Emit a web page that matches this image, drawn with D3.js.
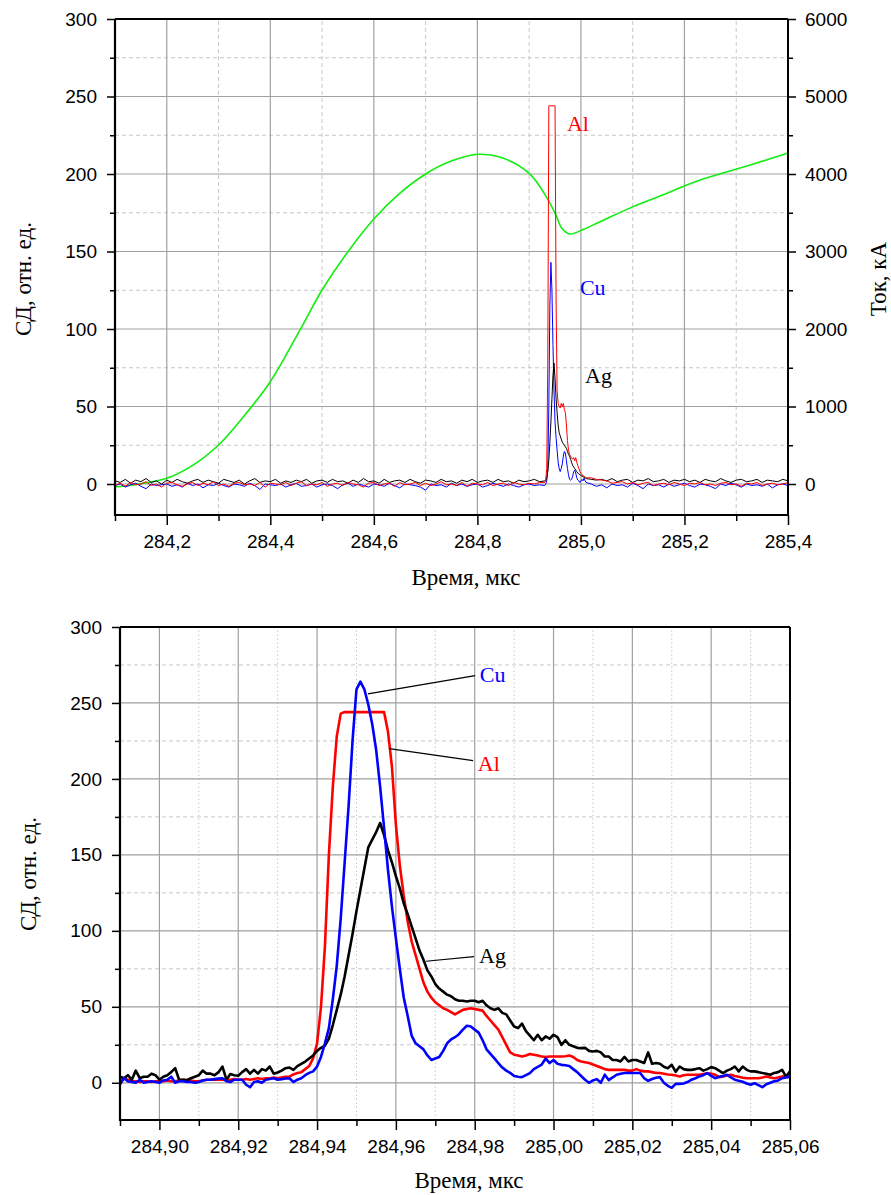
<!DOCTYPE html>
<html><head><meta charset="utf-8">
<script src="https://cdn.jsdelivr.net/npm/d3@7"></script>
<style>body{margin:0;background:#fff}</style>
</head><body><svg id="c" width="891" height="1195" xmlns="http://www.w3.org/2000/svg"></svg>
<script>
// ---------------- TOP PANEL DATA ----------------
const topTimePre = [284.10,284.11,284.12,284.13,284.14,284.15,284.16,284.17,284.18,284.19,
284.20,284.21,284.22,284.23,284.24,284.25,284.26,284.27,284.28,284.29,
284.30,284.31,284.32,284.33,284.34,284.35,284.36,284.37,284.38,284.39,
284.40,284.41,284.42,284.43,284.44,284.45,284.46,284.47,284.48,284.49,
284.50,284.51,284.52,284.53,284.54,284.55,284.56,284.57,284.58,284.59,
284.60,284.61,284.62,284.63,284.64,284.65,284.66,284.67,284.68,284.69,
284.70,284.71,284.72,284.73,284.74,284.75,284.76,284.77,284.78,284.79,
284.80,284.81,284.82,284.83,284.84,284.85,284.86,284.87,284.88,284.89,
284.90,284.91,284.92];
const topTimePeak = [284.930,284.932,284.934,284.936,284.938,284.940,284.942,284.944,284.946,284.948,
284.950,284.952,284.954,284.956,284.958,284.960,284.962,284.964,284.966,284.968,
284.970,284.972,284.974,284.976,284.978,284.980,284.982,284.984,284.986,284.988,
284.990,284.992,284.994,284.996,284.998,285.000,285.002,285.004,285.006,285.008,285.010];
const topTimePost = [285.02,285.03,285.04,285.05,285.06,285.07,285.08,285.09,285.10,285.11,
285.12,285.13,285.14,285.15,285.16,285.17,285.18,285.19,285.20,285.21,
285.22,285.23,285.24,285.25,285.26,285.27,285.28,285.29,285.30,285.31,
285.32,285.33,285.34,285.35,285.36,285.37,285.38,285.39,285.40];

const topAlPre = [-1,0.5,-1.5,1,-0.5,0,1.5,-1,0,-2, 0.5,1,-0.5,-1.5,0,1,-1,0.5,-0.5,1.5,
-1,0,-1.5,0.5,1,-0.5,0,-1,1,-2, 0.5,0,-0.5,1,-1,0.5,1.5,-1,0,-0.5,
1,-1.5,0,0.5,-1,1,0,-0.5,-2,0.5, 1,-1,0,0.5,-1.5,1,-0.5,0,1,-1,
0.5,-1,0,1.5,-0.5,0,-1,1,-1.5,0.5, 0,-0.5,1,-1,0,0.5,-1,1,0,-0.5, 0.5,0,1];
const topAlPeak = [1,3,10,80,244,244,244,244,244,244, 244,120,60,52,50,49,52,50,52,48,
46,38,28,22,19,18,17,16,17,15, 17,14,12,10,8,7,6,5.5,5,4.5, 4];
const topAlPost = [4,3,2.5,2,0.5,1,1.5,0,1,-0.5, 0.5,1,-1,0,0.5,-0.5,1,0,-1,0.5,
0,1,-0.5,0,-1,0.5,1,-0.5,0,-1.5, 0.5,0,1,-1,0,0.5,-0.5,0,1];

const topAgPre = [2,1,3,0.5,2.5,1.5,3.5,1,2,0, 2.5,1,3,1.5,0.5,2,3,1,2.5,1.5,
0.5,3,2,1,2.5,0,2,3.5,1,2, 1.5,3,0.5,2,1,2.5,1.5,3,0.5,2,
2.5,1,3,1.5,2,0.5,2.5,1,3.5,1.5, 2,0.5,3,1,2,2.5,1,3,1.5,0.5,
2.5,2,1,3,1.5,2,0.5,2.5,1.5,3, 1,2,2.5,1,3,1.5,2,0.5,2.5,1.5, 2,3,1.5];
const topAgPeak = [2,2,4,8,15,27,40,55,70,78, 68,55,46,38,33,31,29,27,26,25,
24,23,21,19,18,16,14,12,11,10, 9,8,7,6.5,6,5.5,5,5,4,4, 3.5];
const topAgPost = [3,2.5,3,2,3.5,1.5,2.5,3,1,2.5, 2,3.5,1.5,2,3,1,2.5,2,3,1.5,
2.5,1,3,2,1.5,3.5,2,1,2.5,3, 1.5,2,3,1,2.5,2,1.5,3,2];

const topCuPre = [-1,0,-2,-0.5,0.5,-1.5,-3,0,-1,-0.5, 0,-1.5,-0.5,-2,0.5,-1,0,-2.5,-0.5,-1,
0.5,-1,-2,0,-0.5,-1.5,0.5,-1,-3.5,0, -0.5,-1,0,-2,-0.5,0.5,-1.5,-1,0,-2,
-0.5,0,-1,-3,-0.5,0.5,-1.5,0,-1,-2, 0,-0.5,-1.5,0.5,-1,-2.5,0,-0.5,-1,-2,
-4,0,-1,-0.5,-2,0.5,-1,0,-1.5,-0.5, 0,-2,-1,0.5,-0.5,-1.5,0,-1,-2,-0.5, 0,-1,-0.5];
const topCuPeak = [-1,0,2,10,50,115,143,125,90,60, 40,30,22,14,10,8,10,13,18,21,
20,15,10,6,3,2.5,3,5,8,9, 7,4,2.5,2,1,2,3,2,3.7,2, 1];
const topCuPost = [0,-1.5,-0.5,-2.5,0,-1,-0.5,-2,0.5,-1, -3,0,-1,-0.5,-2,0,-1.5,-0.5,0.5,-1,
-2,0,-0.5,-1.5,-3,0,-1,0.5,-0.5,-2, 0,-1,-0.5,-1.5,0,-2.5,-0.5,0,-1];

// current (right axis, kA)
const currentTime = [284.10,284.135,284.20,284.25,284.30,284.348,284.40,284.458,284.50,284.55,284.60,284.65,284.70,284.747,284.80,284.845,284.90,284.935,284.953,284.963,284.979,285.005,285.037,285.101,285.153,285.23,285.327,285.40];
const currentKA   = [-35,-12,73,240,503,868,1320,1996,2503,2997,3420,3750,4000,4160,4254,4215,4009,3686,3450,3300,3226,3286,3385,3579,3716,3922,4116,4270];

const topXMajor = [284.2,284.4,284.6,284.8,285.0,285.2,285.4];
const topXMinor = [284.1,284.3,284.5,284.7,284.9,285.1,285.3];
const topYMajor = [0,50,100,150,200,250,300];
const topYMinor = [25,75,125,175,225,275];
const rightMajor = [0,1000,2000,3000,4000,5000,6000];
const rightMinor = [500,1500,2500,3500,4500,5500];

const topLabels = [{text:"Al",t:284.973,v:228,color:"#ff0000"},{text:"Cu",t:284.998,v:122,color:"#0000ff"},{text:"Ag",t:285.008,v:65,color:"#000000"}];

// ---------------- BOTTOM PANEL DATA ----------------
const botTime = [284.890,284.891,284.892,284.893,284.894,284.895,284.896,284.897,284.898,284.899,
284.900,284.901,284.902,284.903,284.904,284.905,284.906,284.907,284.908,284.909,
284.910,284.911,284.912,284.913,284.914,284.915,284.916,284.917,284.918,284.919,
284.920,284.921,284.922,284.923,284.924,284.925,284.926,284.927,284.928,284.929,
284.930,284.931,284.932,284.933,284.934,284.935,284.936,284.937,284.938,284.939,
284.940,284.941,284.942,284.943,284.944,284.945,284.946,284.947,284.948,284.949,
284.950,284.951,284.952,284.953,284.954,284.955,284.956,284.957,284.958,284.959,
284.960,284.961,284.962,284.963,284.964,284.965,284.966,284.967,284.968,284.969,
284.970,284.971,284.972,284.973,284.974,284.975,284.976,284.977,284.978,284.979,
284.980,284.981,284.982,284.983,284.984,284.985,284.986,284.987,284.988,284.989,
284.990,284.991,284.992,284.993,284.994,284.995,284.996,284.997,284.998,284.999,
285.000,285.001,285.002,285.003,285.004,285.005,285.006,285.007,285.008,285.009,
285.010,285.011,285.012,285.013,285.014,285.015,285.016,285.017,285.018,285.019,
285.020,285.021,285.022,285.023,285.024,285.025,285.026,285.027,285.028,285.029,
285.030,285.031,285.032,285.033,285.034,285.035,285.036,285.037,285.038,285.039,
285.040,285.041,285.042,285.043,285.044,285.045,285.046,285.047,285.048,285.049,
285.050,285.051,285.052,285.053,285.054,285.055,285.056,285.057,285.058,285.059,
285.060];
const botAg = [4,3,5,2,8,3,4,4,6,5, 2,4,5,7,9.6,2,2,1.5,3,4, 5,8,6,6,5,7,10.7,2,5.7,5,
4.6,7,9,6,8.5,6,9,8,10.7,6, 6.8,8,9.6,10,8.5,11,12.5,14,16,18, 21,23,24.5,29,38,48,58,70,84,98,
113,127,141,155,160,165,171,163,153,145, 136,128,118,111,103,95,87,81,74,70,
65,62,60,58,57,55,54,54,53.5,54, 54,53,54,51,49,48,49,46,45,41,
37,36,39,34,31,28,31.6,28,30.5,29, 31.6,30,25,28,25,24,23,22.8,23,21,
20.6,21,20,17.3,17.3,15,15,14,17,14, 15,15,14,13,20,12.5,13,12.5,10.5,9.6,
11.8,7.2,10.7,9,8.5,8.5,9,9.6,8,9, 10.3,9.6,8,6.4,8,9,10.7,7.5,10.7,8.5,
7.5,7.5,7,6.4,6,5.3,6.5,7,8.5,4, 7.5];
const botAl = [0,3,2,1,1,0.5,1,1,0.5,1, 1,1,1.5,1,1,1.5,2,2,1.5,1, 1,1.5,2,2,2,2,2,2,2,2.5,
2,2,2.5,2,2.5,3,2.5,3,3,3.5, 3,3.5,4,4,5.5,6.4,7,9,11,16, 26,50,90,150,195,228,243,244,244,244,
244,244,244,244,244,244,244,244,231,208, 170,143,123,106,93,84,75,66,60,56,
53,51,49,48,46.5,45,46.5,48,48.5,49, 48.5,48,47.5,44,41,38,35,30,25,20,
18.5,18,17.3,18,19,18.5,18,17.3,17,17.3, 17.3,17.3,17.3,17.5,18,17,15,14,13.5,13,
12,11,10,9,8.5,8.5,8.5,8.5,8.5,8, 8,9,8,7.5,7.5,7,6.5,6.4,6,5.5,
5.3,4.8,4.2,5,5.3,5.3,5.3,5.3,5.8,6.2, 6,5.3,3.7,4.2,4.8,5.3,4.5,4,3.3,3,
3,3,3,3.5,4.2,3.5,3,3.5,4.2,4, 3.7];
const botCu = [-1,3,1,0.5,0,2,0,0.5,1,0.5, 0,1.5,2,4,0,1,1,0.5,0.5,0, 0.5,1.5,2,2,2.4,2.8,3,1,0.5,2,
2,2,-1.3,-2.9,0.5,1,0,2,2.5,3, 2,2.4,2.8,3,0.5,2,3,5,6.5,7.5, 10.7,17,26,36,55,77,108,145,182,225,
259,264,259,249,236,219,195,168,140,116, 95,75,56,44,31,26,24,22,18,15,
16,17,21,26,28.5,30,32,35,37.5,37, 35,33,28,22,19,16,13,10,8,6.5,
4.5,4,3.7,5,6.4,9,10.5,12,16,13, 15,12.5,11.8,11.5,11,9,7,4.5,2,0,
1.5,2.4,0,5.3,1.8,3.5,5.3,6,6.4,6.4, 6.4,6.4,6.4,3,1.3,2.5,3.3,3.7,0,-2,
-3.3,-0.7,-0.7,-0.5,0.5,2,3,4.2,5,6.4, 4.5,3,4,4.5,5.3,3.5,2,1.3,0.7,-0.5,
-1.3,-0.3,-1.5,-2.9,-1,0,1,1.5,3,3.5, 4.2];

const botXMajor = [284.90,284.92,284.94,284.96,284.98,285.00,285.02,285.04,285.06];
const botXMinor = [284.89,284.91,284.93,284.95,284.97,284.99,285.01,285.03,285.05];
const botYMajor = [0,50,100,150,200,250,300];
const botYMinor = [25,75,125,175,225,275];

const botLabels = [
  {text:"Cu",color:"#0000ff",t0:284.9529,v0:256,t1:284.9801,v1:268,tl:284.9813,vl:264},
  {text:"Al",color:"#ff0000",t0:284.9583,v0:220,t1:284.9796,v1:212,tl:284.9808,vl:205},
  {text:"Ag",color:"#000000",t0:284.9676,v0:80,t1:284.9798,v1:83,tl:284.9811,vl:79}
];

// ---------------- DRAWING ----------------
const svg = d3.select("#c");
const SANS = "'Liberation Sans', Arial, sans-serif";
const SERIF = "'Liberation Serif', 'Times New Roman', serif";
const fmt1 = d => d.toFixed(1).replace(".", ",");
const fmt2 = d => d.toFixed(2).replace(".", ",");

function grid(g, x, y, xMajor, xMinor, yMajor, yMinor, vMinorDash) {
  const [x0, x1] = x.range(), [y0, y1] = y.range();
  g.selectAll(null).data(yMinor).join("line")
    .attr("x1", x0).attr("x2", x1).attr("y1", d => y(d)).attr("y2", d => y(d))
    .attr("stroke", "#c8c8c8").attr("stroke-width", 1).attr("stroke-dasharray", "4,3");
  g.selectAll(null).data(xMinor.filter(d => Math.abs(x(d) - x0) > 2 && Math.abs(x(d) - x1) > 2)).join("line")
    .attr("x1", d => x(d)).attr("x2", d => x(d)).attr("y1", y0).attr("y2", y1)
    .attr("stroke", "#c8c8c8").attr("stroke-width", 1).attr("stroke-dasharray", vMinorDash);
  g.selectAll(null).data(yMajor.filter(d => Math.abs(y(d) - y1) > 2)).join("line")
    .attr("x1", x0).attr("x2", x1).attr("y1", d => y(d)).attr("y2", d => y(d))
    .attr("stroke", "#a0a0a0").attr("stroke-width", 1.2);
  g.selectAll(null).data(xMajor.filter(d => Math.abs(x(d) - x1) > 2)).join("line")
    .attr("x1", d => x(d)).attr("x2", d => x(d)).attr("y1", y0).attr("y2", y1)
    .attr("stroke", "#a0a0a0").attr("stroke-width", 1.2);
}

function styleAxis(g) {
  g.select(".domain").remove();
  g.selectAll("line").attr("stroke", "#000").attr("stroke-width", 1.5);
  g.attr("font-size", 19).attr("font-family", SANS);
  g.selectAll("text").attr("fill", "#000");
}

function frame(g, x, y) {
  const [x0, x1] = x.range(), [y0, y1] = y.range();
  g.append("line").attr("x1", x0).attr("x2", x1).attr("y1", y1).attr("y2", y1).attr("stroke", "#000").attr("stroke-width", 2);
  g.append("line").attr("x1", x1).attr("x2", x1).attr("y1", y1).attr("y2", y0).attr("stroke", "#000").attr("stroke-width", 2);
  g.append("line").attr("x1", x0).attr("x2", x0).attr("y1", y1).attr("y2", y0 + 1).attr("stroke", "#000").attr("stroke-width", 2.2);
  g.append("line").attr("x1", x0 - 1).attr("x2", x1 + 1).attr("y1", y0).attr("y2", y0).attr("stroke", "#000").attr("stroke-width", 2.2);
}

function axes(g, x, y, xMajor, xMinor, yMajor, yMinor, xFmt) {
  const [x0] = x.range(), [y0] = y.range();
  g.append("g").attr("transform", `translate(0,${y0})`)
    .call(d3.axisBottom(x).tickValues(xMinor).tickSize(6).tickFormat("")).call(styleAxis);
  g.append("g").attr("transform", `translate(0,${y0})`)
    .call(d3.axisBottom(x).tickValues(xMajor).tickSize(10).tickPadding(10).tickFormat(xFmt)).call(styleAxis);
  g.append("g").attr("transform", `translate(${x0},0)`)
    .call(d3.axisLeft(y).tickValues(yMinor).tickSize(5).tickFormat("")).call(styleAxis);
  g.append("g").attr("transform", `translate(${x0},0)`)
    .call(d3.axisLeft(y).tickValues(yMajor).tickSize(8).tickPadding(10).tickFormat(d3.format("d"))).call(styleAxis);
}

function seriesPts(times, vals) { return times.map((t, i) => [t, vals[i]]); }

// ---- Top panel ----
const xT = d3.scaleLinear().domain([284.1, 285.4]).range([115, 788]);
const yT = d3.scaleLinear().domain([-20, 300]).range([515, 19]);
const yR = d3.scaleLinear().domain([-400, 6000]).range([515, 19]);
const gTop = svg.append("g");
grid(gTop, xT, yT, topXMajor, topXMinor, topYMajor, topYMinor, "4,3");

const topTime = topTimePre.concat(topTimePeak, topTimePost);
const topAl = topAlPre.concat(topAlPeak, topAlPost);
const topAg = topAgPre.concat(topAgPeak, topAgPost);
const topCu = topCuPre.concat(topCuPeak, topCuPost);

const lineT = d3.line().x(d => xT(d[0])).y(d => yT(d[1]));
const lineR = d3.line().x(d => xT(d[0])).y(d => yR(d[1])).curve(d3.curveCatmullRom.alpha(0.5));

gTop.append("path").datum(seriesPts(currentTime, currentKA)).attr("d", lineR)
  .attr("fill", "none").attr("stroke", "#10ee10").attr("stroke-width", 1.6);
gTop.append("path").datum(seriesPts(topTime, topCu)).attr("d", lineT)
  .attr("fill", "none").attr("stroke", "#0000ff").attr("stroke-width", 1);
gTop.append("path").datum(seriesPts(topTime, topAg)).attr("d", lineT)
  .attr("fill", "none").attr("stroke", "#000000").attr("stroke-width", 1);
gTop.append("path").datum(seriesPts(topTime, topAl)).attr("d", lineT)
  .attr("fill", "none").attr("stroke", "#ff0000").attr("stroke-width", 1);

frame(gTop, xT, yT);
axes(gTop, xT, yT, topXMajor, topXMinor, topYMajor, topYMinor, fmt1);
gTop.append("g").attr("transform", "translate(788,0)")
  .call(d3.axisRight(yR).tickValues(rightMinor).tickSize(5).tickFormat("")).call(styleAxis);
gTop.append("g").attr("transform", "translate(788,0)")
  .call(d3.axisRight(yR).tickValues(rightMajor).tickSize(8).tickPadding(9).tickFormat(d3.format("d"))).call(styleAxis);

gTop.selectAll(null).data(topLabels).join("text")
  .attr("x", d => xT(d.t)).attr("y", d => yT(d.v)).text(d => d.text)
  .attr("fill", d => d.color).attr("font-family", SERIF).attr("font-size", 22);

gTop.append("text").attr("x", 466).attr("y", 585).attr("text-anchor", "middle")
  .attr("font-family", SERIF).attr("font-size", 23).text("Время, мкс");
gTop.append("text").attr("transform", "translate(31,279) rotate(-90)").attr("text-anchor", "middle")
  .attr("font-family", SERIF).attr("font-size", 23).text("СД, отн. ед.");
gTop.append("text").attr("transform", "translate(886,279) rotate(-90)").attr("text-anchor", "middle")
  .attr("font-family", SERIF).attr("font-size", 23).text("Ток, кА");

// ---- Bottom panel ----
const xB = d3.scaleLinear().domain([284.89, 285.06]).range([120, 790]);
const yB = d3.scaleLinear().domain([-24.5, 300]).range([1120, 627]);
const gBot = svg.append("g");
grid(gBot, xB, yB, botXMajor, botXMinor, botYMajor, botYMinor, "1.5,2.5");

const lineB = d3.line().x(d => xB(d[0])).y(d => yB(d[1]));
gBot.append("path").datum(seriesPts(botTime, botAl)).attr("d", lineB)
  .attr("fill", "none").attr("stroke", "#ff0000").attr("stroke-width", 2.6).attr("stroke-linejoin", "round");
gBot.append("path").datum(seriesPts(botTime, botAg)).attr("d", lineB)
  .attr("fill", "none").attr("stroke", "#000000").attr("stroke-width", 2.6).attr("stroke-linejoin", "round");
gBot.append("path").datum(seriesPts(botTime, botCu)).attr("d", lineB)
  .attr("fill", "none").attr("stroke", "#0000ff").attr("stroke-width", 2.6).attr("stroke-linejoin", "round");

frame(gBot, xB, yB);
axes(gBot, xB, yB, botXMajor, botXMinor, botYMajor, botYMinor, fmt2);

gBot.selectAll(null).data(botLabels).join("line")
  .attr("x1", d => xB(d.t0)).attr("y1", d => yB(d.v0)).attr("x2", d => xB(d.t1)).attr("y2", d => yB(d.v1))
  .attr("stroke", "#000").attr("stroke-width", 1.2);
gBot.selectAll(null).data(botLabels).join("text")
  .attr("x", d => xB(d.tl)).attr("y", d => yB(d.vl)).text(d => d.text)
  .attr("fill", d => d.color).attr("font-family", SERIF).attr("font-size", 22);

gBot.append("text").attr("x", 469).attr("y", 1188).attr("text-anchor", "middle")
  .attr("font-family", SERIF).attr("font-size", 23).text("Время, мкс");
gBot.append("text").attr("transform", "translate(36,874) rotate(-90)").attr("text-anchor", "middle")
  .attr("font-family", SERIF).attr("font-size", 23).text("СД, отн. ед.");
</script>
</body></html>
